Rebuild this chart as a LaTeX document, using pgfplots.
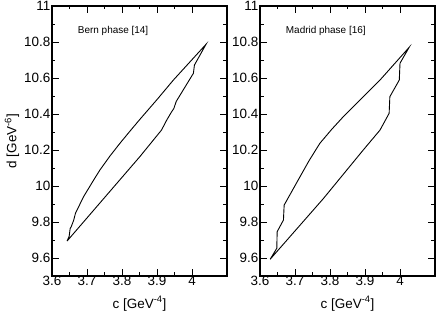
\documentclass[border=0pt]{standalone}
\usepackage{fontspec}
\setmainfont{Liberation Sans}
\usepackage{pgfplots}
\pgfplotsset{compat=1.18}
\begin{document}
\begin{tikzpicture}
\pgfplotsset{
  myax/.style={
    scale only axis, width=175bp, height=270bp,
    xmin=3.6, xmax=4.1, ymin=9.5, ymax=11,
    xtick={3.6,3.7,3.8,3.9,4.0},
    ytick={9.6,9.8,10,10.2,10.4,10.6,10.8,11},
    minor x tick num=1, minor y tick num=1,
    tick align=inside, xtick pos=both, ytick pos=both,
    major tick length=7bp, minor tick length=3.5bp,
    every tick/.style={black, line width=0.9bp},
    axis line style={line width=1.1bp},
    /pgf/number format/assume math mode=true,
    tick label style={font=\fontsize{13.5}{15}\selectfont},
    xticklabel style={inner sep=1bp, yshift=1bp},
    yticklabel style={inner sep=1.5bp},
    label style={font=\fontsize{13.5}{15}\selectfont},
    xlabel={c [GeV\textsuperscript{-4}]},
    xlabel style={at={(axis description cs:0.5,0)}, anchor=base, yshift=-32bp},
  }
}
\path[use as bounding box] (-52bp,-36bp) rectangle (384bp,276bp);
\begin{axis}[myax, at={(0bp,0bp)}, anchor=south west,
  ylabel={d [GeV\textsuperscript{-6}]},
  ylabel style={at={(axis description cs:-0.2286,0.5)}, anchor=center}]
\addplot[black, line width=0.9bp] coordinates {
(3.643,9.694) (3.649,9.72) (3.652,9.765) (3.655,9.774) (3.662,9.81) (3.667,9.848)
(3.690,9.94) (3.719,10.033) (3.737,10.089) (3.765,10.165) (3.794,10.237) (3.825,10.31) (3.851,10.37)
(3.90,10.48) (3.947,10.589) (4.040,10.787)
(4.007,10.672) (4.004,10.626) (3.955,10.47) (3.948,10.43) (3.942,10.413)
(3.928,10.367) (3.913,10.311) (3.851,10.163) (3.643,9.694)};
\node[anchor=west, font=\fontsize{10}{12}\selectfont] at (axis cs:3.664,10.862) {Bern phase [14]};
\end{axis}
\begin{axis}[myax, at={(208bp,0bp)}, anchor=south west]
\addplot[black, line width=0.9bp] coordinates {
(3.629,9.593) (3.648,9.654) (3.649,9.746) (3.667,9.811) (3.669,9.894)
(3.709,10.033) (3.740,10.14) (3.771,10.237) (3.805,10.315) (3.838,10.385) (3.943,10.589) (4.026,10.77)
(4.000,10.682) (3.998,10.589) (3.971,10.496) (3.969,10.404) (3.943,10.311)
(3.895,10.2) (3.781,9.93) (3.629,9.593)};
\node[anchor=west, font=\fontsize{10}{12}\selectfont] at (axis cs:3.664,10.862) {Madrid phase [16]};
\end{axis}
\end{tikzpicture}
\end{document}
